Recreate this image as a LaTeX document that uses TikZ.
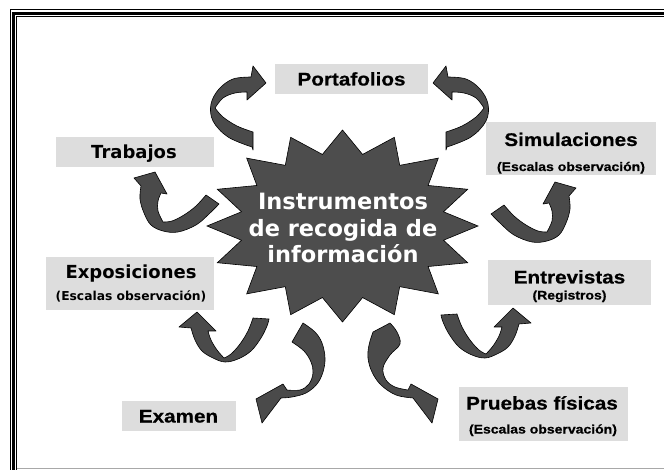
\documentclass[tikz,border=0pt]{standalone}
\usepackage{fontspec}
\newfontfamily\arl{Liberation Sans}[FakeStretch=1.13, BoldFont={Liberation Sans Bold}, BoldFeatures={FakeStretch=1.13, FakeBold=0.6}]
\newfontfamily\vrd{DejaVu Sans}
\definecolor{lblgray}{HTML}{DDDDDD}
\definecolor{stargray}{HTML}{4D4D4D}
\definecolor{arrgray}{HTML}{4A4A4A}
\definecolor{framegray}{HTML}{A8A8A8}
\tikzset{
  arr/.style={fill=arrgray, draw=black, line width=0.6pt, line join=round},
  lbox/.style={rectangle, fill=lblgray, draw=none, inner sep=0pt},
  bigA/.style={anchor=base, inner sep=0pt, font=\arl\bfseries\fontsize{18.3}{20}\selectfont},
  smallA/.style={anchor=base, inner sep=0pt, font=\arl\bfseries\fontsize{12.4}{14}\selectfont},
  bigV/.style={anchor=base, inner sep=0pt, font=\vrd\bfseries\fontsize{18}{20}\selectfont},
  smallV/.style={anchor=base, inner sep=0pt, font=\vrd\bfseries\fontsize{12.3}{14}\selectfont},
  ctrtxt/.style={anchor=base, inner sep=0pt, text=white, font=\vrd\bfseries\fontsize{22.5}{26}\selectfont},
}
\newcommand\ArrA{\filldraw[arr] (253,132) -- plot[smooth,tension=0.6] coordinates {(253,132) (237,126) (223,117) (215,108)} -- plot[smooth,tension=0.6] coordinates {(215,108) (223,98) (235,93) (247,92)} -- (247,100) -- (266,83) -- (253,66) -- (251,77) -- plot[smooth,tension=0.6] coordinates {(251,77) (233,79) (219,89) (211,104) (213,121) (228,137) (252,147)} -- (253,150) -- cycle;}
\newcommand\ArrC{\filldraw[arr] (206,195) -- plot[smooth,tension=0.6] coordinates {(206,195) (196,206) (184,215) (172,221) (163,222)} -- plot[smooth,tension=0.6] coordinates {(163,222) (158,211) (158,201) (161,193)} -- (167,194) -- (155,172) -- (134,178) -- (141,186) -- plot[smooth,tension=0.6] coordinates {(141,186) (140,199) (144,213) (151,225) (163,231) (178,232) (196,225) (209,214) (219,204)} -- cycle;}
\newcommand\ArrE{\filldraw[arr] (253,318) -- plot[smooth,tension=0.6] coordinates {(253,318) (248,331) (240,344) (231,354) (224,358)} -- plot[smooth,tension=0.6] coordinates {(224,358) (217,350) (211,340) (208,331)} -- (216,331) -- (197,312) -- (179,327) -- (191,328) -- plot[smooth,tension=0.6] coordinates {(191,328) (195,340) (202,351) (213,358) (225,362) (238,359) (251,351) (261,338) (267,326) (269,319)} -- cycle;}
\begin{document}
\begin{tikzpicture}[x=1pt,y=-1pt]
\useasboundingbox (0,0) rectangle (664,470);
\clip (0,0) rectangle (664,470);
% frame
\draw[line width=1pt] (10,480) -- (10,10) -- (680,10);
\draw[line width=3pt] (13.5,480) -- (13.5,13.5) -- (680,13.5);
\draw[line width=1pt] (16.7,480) -- (16.7,16.7) -- (680,16.7);
\draw[framegray, line width=1.3pt] (17,468.8) -- (680,468.8);
% labels
\node[lbox, minimum width=153pt, minimum height=30pt] (portbox) at (351.5,79) {};
\node[bigA] (port) at (351.5,85.5) {Portafolios};
\node[lbox, minimum width=158pt, minimum height=30pt] (trabbox) at (135,152) {};
\node[bigV] (trab) at (134,159) {Trabajos};
\node[lbox, minimum width=168pt, minimum height=53pt] (expobox) at (130,283.5) {};
\node[bigV] (expo) at (131,279) {Exposiciones};
\node[smallV] (expos) at (131,301) {(Escalas observación)};
\node[lbox, minimum width=170pt, minimum height=53pt] (simubox) at (571,148.5) {};
\node[bigA] (simu) at (571,146) {Simulaciones};
\node[smallA] (simus) at (571,171) {(Escalas observación)};
\node[lbox, minimum width=163pt, minimum height=45pt] (entrbox) at (569.5,282.5) {};
\node[bigA] (entr) at (569.5,283.5) {Entrevistas};
\node[smallA] (entrs) at (569.5,299.5) {(Registros)};
\node[lbox, minimum width=114pt, minimum height=30pt] (exambox) at (179,416) {};
\node[bigA] (exam) at (178.5,422.5) {Examen};
\node[lbox, minimum width=169pt, minimum height=54pt] (pruebox) at (543.5,414) {};
\node[bigA] (prue) at (542,409.5) {Pruebas físicas};
\node[smallA] (prues) at (543,433.5) {(Escalas observación)};
% star
\filldraw[fill=stargray, draw=black, line width=0.6pt, line join=miter]
  (342.5,130) \foreach \k in {1,...,31}{ -- ({342.5+135.5*(isodd(\k)?0.76:1)*cos(90+11.25*\k)},{226-96*(isodd(\k)?0.76:1)*sin(90+11.25*\k)}) } -- cycle;
\node[ctrtxt] (ctr1) at (343,210) {Instrumentos};
\node[ctrtxt] (ctr2) at (343,236.5) {de recogida de};
\node[ctrtxt] (ctr3) at (343,263) {información};
% arrows
\ArrA
\begin{scope}[xshift=699pt, xscale=-1]\ArrA\end{scope}
\ArrC
\begin{scope}[xshift=710pt, yshift=-10pt, xscale=-1]\ArrC\end{scope}
\ArrE
\begin{scope}[xshift=710pt, yshift=4pt, xscale=-1]\ArrE\end{scope}
\filldraw[arr] (303,323) -- plot[smooth,tension=0.6] coordinates {(303,323) (315,332) (322,343) (325,358) (323,372) (317,384) (306,393) (292,397) (281,398)} -- (262,423) -- (256,399) -- (283,384) -- (287,390) -- plot[smooth,tension=0.6] coordinates {(287,390) (300,390) (309,384) (313,373) (311,362) (304,351) (292,342)} -- cycle;
\filldraw[arr] (373,332) -- plot[smooth,tension=0.6] coordinates {(373,332) (369,345) (368,358) (372,372) (381,385) (396,395) (413,398)} -- (432,423) -- (438,399) -- (411,384) -- (408,390) -- plot[smooth,tension=0.6] coordinates {(408,390) (395,387) (386,380) (383,368) (390,355) (400,344) (397,332) (390,323)} -- cycle;
\end{tikzpicture}
\end{document}
